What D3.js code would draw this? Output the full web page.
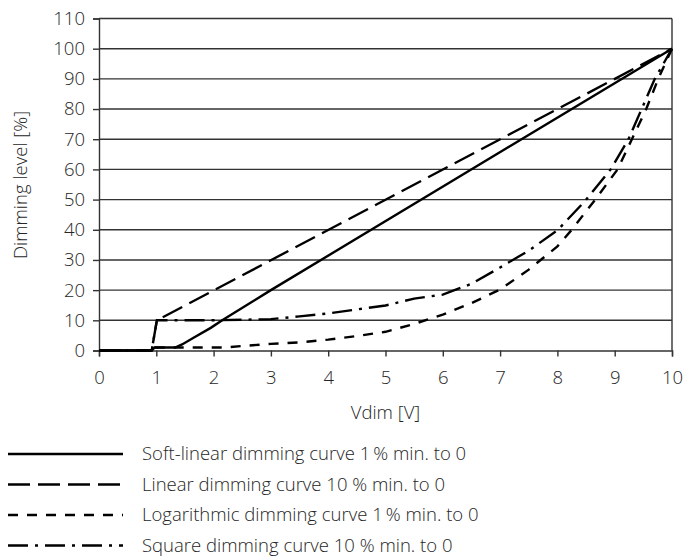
<!DOCTYPE html>
<html>
<head>
<meta charset="utf-8">
<script src="https://cdn.jsdelivr.net/npm/d3@7"></script>
<style>
  body { margin: 0; background: #fff; }
  text { font-family: "Open Sans", "Lato", sans-serif; font-weight: 300; fill: #262626; }
</style>
</head>
<body>
<div id="chart"></div>
<script>
// tick values
var xTicks = [0, 1, 2, 3, 4, 5, 6, 7, 8, 9, 10];
var yTicks = [0, 10, 20, 30, 40, 50, 60, 70, 80, 90, 100, 110];

// curves, [Vdim, level %]
var softLinear = [[0, 0], [0.92, 0], [0.97, 1], [1.33, 1], [1.45, 2], [1.65, 4.2],
  [1.95, 7.5], [2.15, 10], [3, 20], [10, 100]];
var linear = [[0, 0], [0.92, 0], [1.01, 10], [10, 100]];
var logarithmic = [[0, 0], [0.92, 0], [0.97, 1], [2.2, 1], [2.5, 1.5], [3, 2.2],
  [3.5, 2.7], [4, 3.6], [4.5, 4.8], [5, 6.2], [5.5, 8.8], [6, 11.9], [6.5, 15.7],
  [7, 20.2], [7.5, 26.8], [8, 34.5], [8.25, 40], [8.66, 50], [9.05, 60], [9.3, 70],
  [9.55, 80], [9.76, 90], [10, 100]];
var square = [[0, 0], [0.92, 0], [1.01, 10], [2, 10], [3, 10.4], [3.5, 11.3],
  [4, 12.3], [4.5, 13.6], [5, 14.9], [5.5, 17.2], [6, 18.5], [6.5, 22.1], [7, 27.5],
  [7.5, 33.1], [8, 39.8], [8.48, 49.5], [8.93, 60], [9.24, 70], [9.47, 80],
  [9.7, 90], [10, 100]];

var seriesNames = [
  "Soft-linear dimming curve 1\u2009% min. to 0",
  "Linear dimming curve 10 % min. to 0",
  "Logarithmic dimming curve 1\u2009% min. to 0",
  "Square dimming curve 10 % min. to 0"
];

var series = [
  { name: seriesNames[0], values: softLinear, dash: null },
  { name: seriesNames[1], values: linear, dash: "22,8" },
  { name: seriesNames[2], values: logarithmic, dash: "10,9" },
  { name: seriesNames[3], values: square, dash: "20,7,3,7" }
];

var width = 686, height = 557;
var margin = { left: 99, right: 14, top: 18.5, bottom: 206.5 };
var fontSize = "18.5px";

var svg = d3.select("#chart").append("svg")
  .attr("width", width)
  .attr("height", height);

var x = d3.scaleLinear().domain([0, 10]).range([margin.left, width - margin.right]);
var y = d3.scaleLinear().domain([0, 110]).range([height - margin.bottom, margin.top]);

// horizontal grid lines
svg.append("g")
  .selectAll("line")
  .data(yTicks.slice(1))
  .enter().append("line")
  .attr("x1", x(0)).attr("x2", x(10))
  .attr("y1", function (d) { return y(d); })
  .attr("y2", function (d) { return y(d); })
  .attr("stroke", "#333")
  .attr("stroke-width", 1.4);

// right border
svg.append("line")
  .attr("x1", x(10)).attr("x2", x(10))
  .attr("y1", y(0)).attr("y2", y(110))
  .attr("stroke", "#333")
  .attr("stroke-width", 1.4);

// axes
var xAxis = svg.append("g")
  .attr("transform", "translate(0," + y(0) + ")")
  .call(d3.axisBottom(x).tickValues(xTicks).tickSize(6).tickPadding(14));

var yAxis = svg.append("g")
  .attr("transform", "translate(" + x(0) + ",0)")
  .call(d3.axisLeft(y).tickValues(yTicks).tickSize(6).tickPadding(8));

[xAxis, yAxis].forEach(function (a) {
  a.attr("font-family", null).attr("font-size", null);
  a.select(".domain").attr("stroke", "#333").attr("stroke-width", 1.4);
  a.selectAll(".tick line").attr("stroke", "#333").attr("stroke-width", 1.4);
  a.selectAll(".tick text")
    .style("font-size", fontSize)
    .attr("fill", "#262626");
});

// axis titles
svg.append("text")
  .attr("x", (x(0) + x(10)) / 2)
  .attr("y", 419)
  .attr("text-anchor", "middle")
  .style("font-size", fontSize)
  .text("Vdim [V]");

svg.append("text")
  .attr("transform", "translate(27," + 185 + ") rotate(-90)")
  .attr("text-anchor", "middle")
  .style("font-size", fontSize)
  .text("Dimming level [%]");

// curves
var line = d3.line()
  .x(function (d) { return x(d[0]); })
  .y(function (d) { return y(d[1]); });

svg.append("g")
  .selectAll("path")
  .data(series)
  .enter().append("path")
  .attr("d", function (d) { return line(d.values); })
  .attr("fill", "none")
  .attr("stroke", "#000")
  .attr("stroke-width", 2.4)
  .attr("stroke-dasharray", function (d) { return d.dash; });

// legend
var legend = svg.append("g")
  .selectAll("g")
  .data(series)
  .enter().append("g")
  .attr("transform", function (d, i) { return "translate(0," + (454 + i * 30.5) + ")"; });

legend.append("line")
  .attr("x1", 8).attr("x2", 123)
  .attr("stroke", "#000")
  .attr("stroke-width", 2.4)
  .attr("stroke-dasharray", function (d) { return d.dash; });

legend.append("text")
  .attr("x", 142)
  .attr("y", 6)
  .style("font-size", fontSize)
  .text(function (d) { return d.name; });
</script>
</body>
</html>
